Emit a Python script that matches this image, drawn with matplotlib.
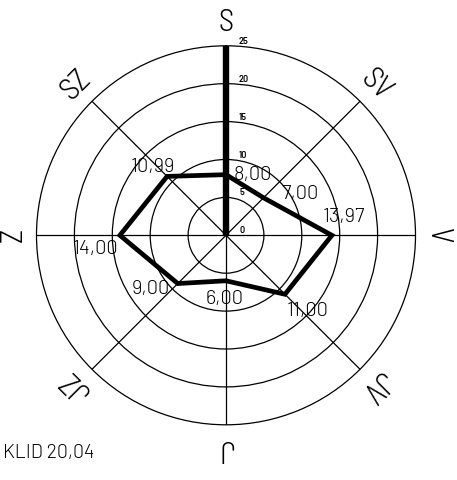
import numpy as np
import matplotlib
matplotlib.use("Agg")
import matplotlib.pyplot as plt
from matplotlib import font_manager
from matplotlib.font_manager import FontProperties

# ---------------- data ----------------
directions = ["S", "SV", "V", "JV", "J", "JZ", "Z", "SZ"]
values = [8.00, 7.00, 13.97, 11.00, 6.00, 9.00, 14.00, 10.99]
value_labels = ["8,00", "7,00", "13,97", "11,00", "6,00", "9,00", "14,00", "10,99"]
calm_value = 20.04
calm_label = "KLID 20,04"
ring_values = [0, 5, 10, 15, 20, 25]
ring_labels = ["0", "5", "10", "15", "20", "25"]


# ---------------- font selection ----------------
def pick_font(cands, target_weight):
    fl = font_manager.fontManager.ttflist
    for fam in cands:
        hits = [f for f in fl if f.name == fam and f.style == "normal"]
        if hits:
            def wnum(f):
                try:
                    return int(f.weight)
                except Exception:
                    return 400
            best = min(hits, key=lambda f: abs(wnum(f) - target_weight))
            return FontProperties(fname=best.fname)
    return FontProperties(family="DejaVu Sans")


fp_dir = pick_font(["Barlow Semi Condensed Light", "Barlow Semi Condensed",
                    "Barlow Condensed"], 300)
fp_num = pick_font(["Barlow Light", "Barlow", "Barlow Semi Condensed Light",
                    "Barlow Semi Condensed"], 300)
fp_small = pick_font(["Barlow SemiBold", "Barlow", "Barlow Semi Condensed"], 600)

W, H = 457, 480
cx, cy, R = 226, 235.3, 189.5
fig = plt.figure(figsize=(W / 100, H / 100), dpi=100)
ax = fig.add_axes([(cx - R) / W, (H - cy - R) / H, 2 * R / W, 2 * R / H],
                  projection="polar")
ax.set_theta_zero_location("N")
ax.set_theta_direction(-1)
rmax = ring_values[-1]
ax.set_ylim(0, rmax)

angles = np.deg2rad(np.arange(len(directions)) * 360 / len(directions))
ax.set_xticks(angles)
ax.set_xticklabels([])
ax.set_yticks(ring_values[1:-1])
ax.set_yticklabels([])
ax.tick_params(length=0)
ax.xaxis.grid(True, color="black", lw=0.9)
ax.yaxis.grid(True, color="black", lw=0.9)
ax.spines["polar"].set_linewidth(0.9)
ax.set_facecolor("white")

# calm bar
ax.plot([0, 0], [0, rmax], color="black", lw=4.6, solid_capstyle="butt", zorder=5)

# polygon
th = np.append(angles, angles[0])
rv = np.append(values, values[0])
ax.plot(th, rv, color="black", lw=3.4, solid_joinstyle="miter", zorder=6)

# direction labels
for i, d in enumerate(directions):
    ax.text(angles[i], 28.0, d, rotation=-i * 45, rotation_mode="anchor",
            ha="center", va="center", fontproperties=fp_dir, fontsize=22,
            clip_on=False)

# value labels (offsets in pixels, alignment)
offsets = [(8, -5, "left"), (18, -1, "left"), (-9, 13, "left"), (2, -22, "left"),
           (-1, -23.5, "center"), (-8, -10.7, "right"), (-1.6, -19, "right"),
           (8, 4.3, "right")]
for i, lab in enumerate(value_labels):
    dx, dy, ha = offsets[i]
    ax.annotate(lab, (angles[i], values[i]), xytext=(dx, dy),
                textcoords="offset pixels", ha=ha, va="baseline",
                fontproperties=fp_num, fontsize=14.5, zorder=7,
                annotation_clip=False)

# ring labels
for r, lab in zip(ring_values, ring_labels):
    ax.annotate(lab, (0, r), xytext=(13, 2), textcoords="offset pixels",
                ha="left", va="baseline", fontproperties=fp_small, fontsize=6.5,
                annotation_clip=False)

fig.text(3 / W, 1 - 458 / H, calm_label, ha="left", va="baseline",
         fontproperties=fp_num, fontsize=14)

fig.savefig("out.png", dpi=100, facecolor="white")
